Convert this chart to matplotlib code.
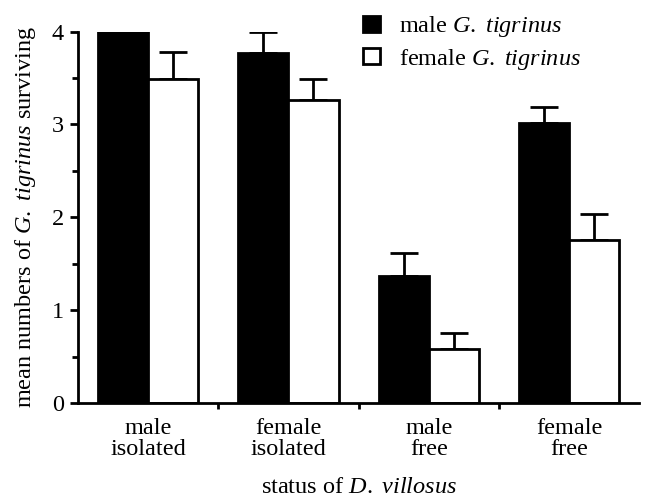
import matplotlib
matplotlib.use("Agg")
import matplotlib.pyplot as plt
from matplotlib.patches import Patch
import numpy as np

plt.rcParams['font.family'] = ['Liberation Serif', 'DejaVu Serif']
plt.rcParams['mathtext.fontset'] = 'custom'
plt.rcParams['mathtext.rm'] = 'Liberation Serif'
plt.rcParams['mathtext.it'] = 'Liberation Serif:italic'

categories = ["male\nisolated", "female\nisolated", "male\nfree", "female\nfree"]
male_means = [4.00, 3.77, 1.37, 3.01]
male_err = [0.00, 0.23, 0.25, 0.18]
female_means = [3.49, 3.26, 0.58, 1.76]
female_err = [0.29, 0.23, 0.17, 0.28]
series_labels = [r"male $\mathit{G.}$ $\mathit{tigrinus}$", r"female $\mathit{G.}$ $\mathit{tigrinus}$"]

FS = 17.5
fig = plt.figure(figsize=(6.49, 5.0), dpi=100)
ax = fig.add_axes([0.120, 0.194, 0.865, 0.743])

x = np.arange(len(categories))
w = 0.357
lw = 2.0
ax.bar(x - w/2, male_means, w, color='black', edgecolor='black', linewidth=lw, zorder=2)
ax.bar(x + w/2, female_means, w, color='white', edgecolor='black', linewidth=lw, zorder=2)
ax.errorbar(x - w/2, male_means, yerr=[np.zeros(4), male_err], fmt='none', ecolor='black',
            elinewidth=lw, capsize=10, capthick=lw, zorder=1)
ax.errorbar(x + w/2, female_means, yerr=[np.zeros(4), female_err], fmt='none', ecolor='black',
            elinewidth=lw, capsize=10, capthick=lw, zorder=1)

ax.set_xlim(-0.5, 3.5)
ax.set_ylim(0, 4)
ax.spines['top'].set_visible(False)
ax.spines['right'].set_visible(False)
ax.spines['left'].set_linewidth(lw)
ax.spines['bottom'].set_linewidth(lw)

ax.set_yticks([0, 1, 2, 3, 4])
ax.set_yticks([0.5, 1.5, 2.5, 3.5], minor=True)
ax.tick_params(axis='y', which='major', length=6, width=lw, labelsize=FS, pad=4)
ax.tick_params(axis='y', which='minor', length=4, width=lw)

ax.set_xticks(x)
ax.set_xticklabels(categories, fontsize=FS, linespacing=1.0)
ax.set_xticks([0.5, 1.5, 2.5], minor=True)
ax.tick_params(axis='x', which='major', length=0, pad=11)
ax.tick_params(axis='x', which='minor', length=4, width=lw)

ax.set_ylabel(r"mean numbers of $\mathit{G.}$ $\mathit{tigrinus}$ surviving", fontsize=FS, labelpad=10)
ax.set_xlabel(r"status of $\mathit{D.}$ $\mathit{villosus}$", fontsize=FS, labelpad=12)

handles = [Patch(facecolor='black', edgecolor='black', linewidth=lw),
           Patch(facecolor='white', edgecolor='black', linewidth=lw)]
leg = ax.legend(handles, series_labels, loc='upper left', bbox_to_anchor=(0.49, 1.072),
                frameon=False, fontsize=FS, handlelength=0.7, handleheight=0.6,
                handletextpad=0.8, labelspacing=0.3, borderaxespad=0)

fig.savefig("out.png", dpi=100)
